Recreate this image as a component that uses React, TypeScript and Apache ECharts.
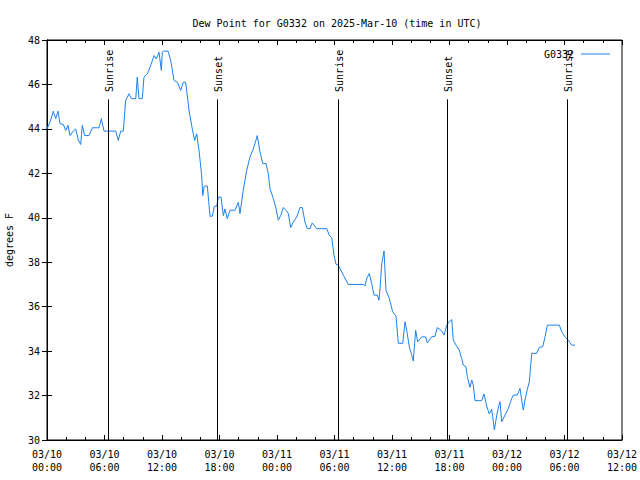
import React, { useEffect, useRef } from "react";
import * as echarts from "echarts";

// Hours since 03/10 00:00 UTC
const hours = [
  0.0, 0.31, 0.66, 0.91, 1.15, 1.36, 1.7, 1.95, 2.19, 2.4, 2.74, 2.99, 3.27, 3.52, 3.68, 3.93, 4.38, 4.73, 5.43, 5.67,
  5.95, 7.17, 7.44, 7.69, 7.96, 8.21, 8.56, 8.8, 9.26, 9.42, 9.6, 9.94, 10.12, 10.47, 10.82, 11.17, 11.41, 11.69, 11.93,
  12.03, 12.14, 12.63, 12.91, 13.25, 13.6, 13.95, 14.22, 14.47, 14.82, 15.16, 15.41, 15.62, 15.86, 16.14, 16.25, 16.41,
  16.73, 17.01, 17.25, 17.46, 17.71, 17.88, 18.16, 18.4, 18.57, 18.81, 19.1, 19.62, 19.96, 20.14, 20.48, 20.84, 21.18,
  21.46, 21.7, 21.94, 22.23, 22.51, 22.85, 23.09, 23.27, 23.62, 23.9, 24.14, 24.39, 24.66, 25.01, 25.18, 25.43, 25.7,
  26.06, 26.4, 26.64, 26.92, 27.16, 27.44, 27.68, 28.14, 29.19, 29.46, 29.71, 29.95, 30.16, 30.4, 30.92, 31.44, 33.01,
  33.18, 33.36, 33.63, 33.88, 34.12, 34.47, 34.64, 34.75, 34.93, 35.17, 35.37, 35.72, 36.07, 36.42, 36.66, 37.12, 37.36,
  37.53, 37.81, 38.06, 38.22, 38.47, 38.68, 39.1, 39.52, 39.68, 40.14, 40.49, 40.73, 41.19, 41.43, 41.71, 41.98, 42.23,
  42.4, 42.75, 43.02, 43.27, 43.44, 43.72, 43.86, 44.14, 44.32, 44.48, 44.66, 45.36, 45.6, 45.88, 46.15, 46.4, 46.51,
  46.68, 46.93, 47.17, 47.27, 47.45, 47.79, 48.14, 48.49, 48.66, 49.07, 49.36, 49.53, 49.7, 49.88, 50.12, 50.33, 50.58,
  51.1, 51.37, 51.73, 51.97, 52.21, 53.46, 53.71, 54.05, 54.4, 54.75, 55.1,
];

const dewPointF = [
  44.0, 44.3, 44.8, 44.46, 44.8, 44.23, 44.2, 43.93, 44.16, 43.7, 43.9, 44.0, 43.5, 43.3, 44.16, 43.7, 43.7, 44.05, 44.05,
  44.46, 43.9, 43.9, 43.48, 43.9, 43.9, 45.28, 45.58, 45.36, 45.36, 46.33, 45.36, 45.36, 46.33, 46.48, 46.85, 47.3, 47.15,
  47.45, 46.63, 47.45, 47.5, 47.5, 47.08, 46.18, 46.1, 45.73, 46.1, 46.1, 44.83, 44.0, 43.48, 43.78, 43.05, 41.9, 41.0,
  41.43, 41.43, 40.07, 40.07, 40.52, 40.52, 40.93, 40.93, 40.1, 40.4, 39.96, 40.34, 40.34, 40.7, 40.19, 41.24, 42.13,
  42.73, 43.03, 43.33, 43.7, 42.96, 42.44, 42.44, 41.99, 41.3, 40.86, 40.41, 39.89, 40.11, 40.46, 40.31, 40.19, 39.56,
  39.81, 40.04, 40.46, 40.46, 39.81, 39.51, 39.51, 39.77, 39.51, 39.51, 39.21, 39.11, 38.31, 37.91, 37.86, 37.42, 37.0,
  37.0, 36.93, 37.27, 37.49, 37.04, 36.52, 36.52, 36.29, 36.82, 37.94, 38.51, 36.74, 36.37, 35.77, 35.57, 34.35, 34.35,
  35.32, 34.94, 34.19, 33.82, 33.55, 34.94, 34.42, 34.64, 34.64, 34.37, 34.64, 34.67, 35.06, 34.91, 34.72, 35.17, 35.32,
  35.42, 34.49, 34.22, 34.04, 33.67, 33.37, 33.3, 32.85, 32.37, 32.7, 32.47, 31.77, 31.77, 32.07, 31.53, 31.17, 31.38,
  31.05, 30.45, 31.12, 31.57, 31.72, 30.82, 31.12, 31.42, 31.87, 32.02, 32.02, 32.32, 31.8, 31.35, 31.8, 32.28, 32.62,
  33.9, 33.9, 34.17, 34.2, 34.64, 35.17, 35.17, 34.87, 34.64, 34.49, 34.27, 34.27,
];

const eventHours = [6.4, 17.77, 30.4, 41.77, 54.3];
const eventNames = ["Sunrise", "Sunset", "Sunrise", "Sunset", "Sunrise"];
const eventLineTop = 45.33;
const eventLabelBase = 45.64;

const xTickLabels = [
  "03/10\n00:00", "03/10\n06:00", "03/10\n12:00", "03/10\n18:00",
  "03/11\n00:00", "03/11\n06:00", "03/11\n12:00", "03/11\n18:00",
  "03/12\n00:00", "03/12\n06:00", "03/12\n12:00",
];

const seriesName = "G0332";
const FONT = "DejaVu Sans Mono";
const LINE_COLOR = "#1a82ee";

export default function App() {
  const ref = useRef<HTMLDivElement>(null);
  useEffect(() => {
    document.body.style.margin = "0";
    const chart = echarts.init(ref.current!, null, { renderer: "svg" });
    const black = "#000";
    const xCommon = {
      type: "value" as const,
      min: 0,
      max: 60,
      interval: 6,
      splitLine: { show: false },
      minorSplitLine: { show: false },
      axisLine: { show: true, lineStyle: { color: black, width: 1 } },
      axisTick: { show: true, inside: true, length: 5, lineStyle: { color: black } },
      minorTick: { show: true, splitNumber: 3, length: 3, lineStyle: { color: black } },
    };
    const yCommon = {
      type: "value" as const,
      min: 30,
      max: 48,
      interval: 2,
      splitLine: { show: false },
      axisLine: { show: true, lineStyle: { color: black, width: 1 } },
      axisTick: { show: true, inside: true, length: 5, lineStyle: { color: black } },
    };
    chart.setOption({
      animation: false,
      backgroundColor: "#fff",
      textStyle: { fontFamily: FONT },
      title: {
        text: "Dew Point for G0332 on 2025-Mar-10 (time in UTC)",
        left: 332,
        textAlign: "center",
        top: 13,
        textStyle: { fontSize: 10, fontWeight: "normal", color: black, fontFamily: FONT },
      },
      legend: {
        data: [seriesName],
        right: 25,
        top: 44,
        align: "right",
        icon: "rect",
        itemWidth: 29,
        itemHeight: 1,
        selectedMode: false,
        textStyle: { fontSize: 10, color: black, fontFamily: FONT, padding: [0, 2, 0, 0] },
      },
      grid: {
        left: 47,
        right: 18,
        top: 40,
        bottom: 40,
        show: true,
        borderColor: black,
        borderWidth: 1,
        outerBoundsMode: "none",
      },
      xAxis: [
        {
          ...xCommon,
          position: "bottom",
          axisLabel: {
            show: true,
            color: black,
            fontSize: 10,
            fontFamily: FONT,
            lineHeight: 13,
            margin: 8,
            formatter: (v: number) => xTickLabels[Math.round(v / 6)] ?? "",
          },
        },
        { ...xCommon, position: "top", axisLabel: { show: false } },
      ],
      yAxis: [
        {
          ...yCommon,
          position: "left",
          name: "degrees F",
          nameLocation: "middle",
          nameGap: 33,
          nameRotate: 90,
          nameTextStyle: { color: black, fontSize: 10, fontFamily: FONT },
          axisLabel: { show: true, color: black, fontSize: 10, fontFamily: FONT, margin: 7 },
        },
        { ...yCommon, position: "right", axisLabel: { show: false } },
      ],
      series: [
        {
          name: seriesName,
          type: "line",
          data: hours.map((h, i) => [h, dewPointF[i]]),
          symbol: "none",
          showSymbol: false,
          lineStyle: { color: LINE_COLOR, width: 1 },
          itemStyle: { color: LINE_COLOR },
          z: 3,
          markLine: {
            silent: true,
            symbol: ["none", "none"],
            label: { show: false },
            lineStyle: { color: black, width: 1, type: "solid" },
            data: eventHours.map((h) => [{ coord: [h, 30] }, { coord: [h, eventLineTop] }]),
          },
        },
        {
          name: "events",
          type: "scatter",
          symbolSize: 1,
          silent: true,
          itemStyle: { color: "#fff", opacity: 1 },
          data: eventHours.map((h, i) => ({ value: [h, eventLabelBase], name: eventNames[i] })),
          label: {
            show: true,
            formatter: "{b}",
            position: [2, 0],
            rotate: 90,
            align: "left",
            verticalAlign: "middle",
            color: black,
            opacity: 1,
            textBorderWidth: 0,
            fontSize: 10,
            fontFamily: FONT,
          },
          z: 4,
        },
      ],
    });
    return () => chart.dispose();
  }, []);
  return <div ref={ref} style={{ width: 640, height: 480 }} />;
}
